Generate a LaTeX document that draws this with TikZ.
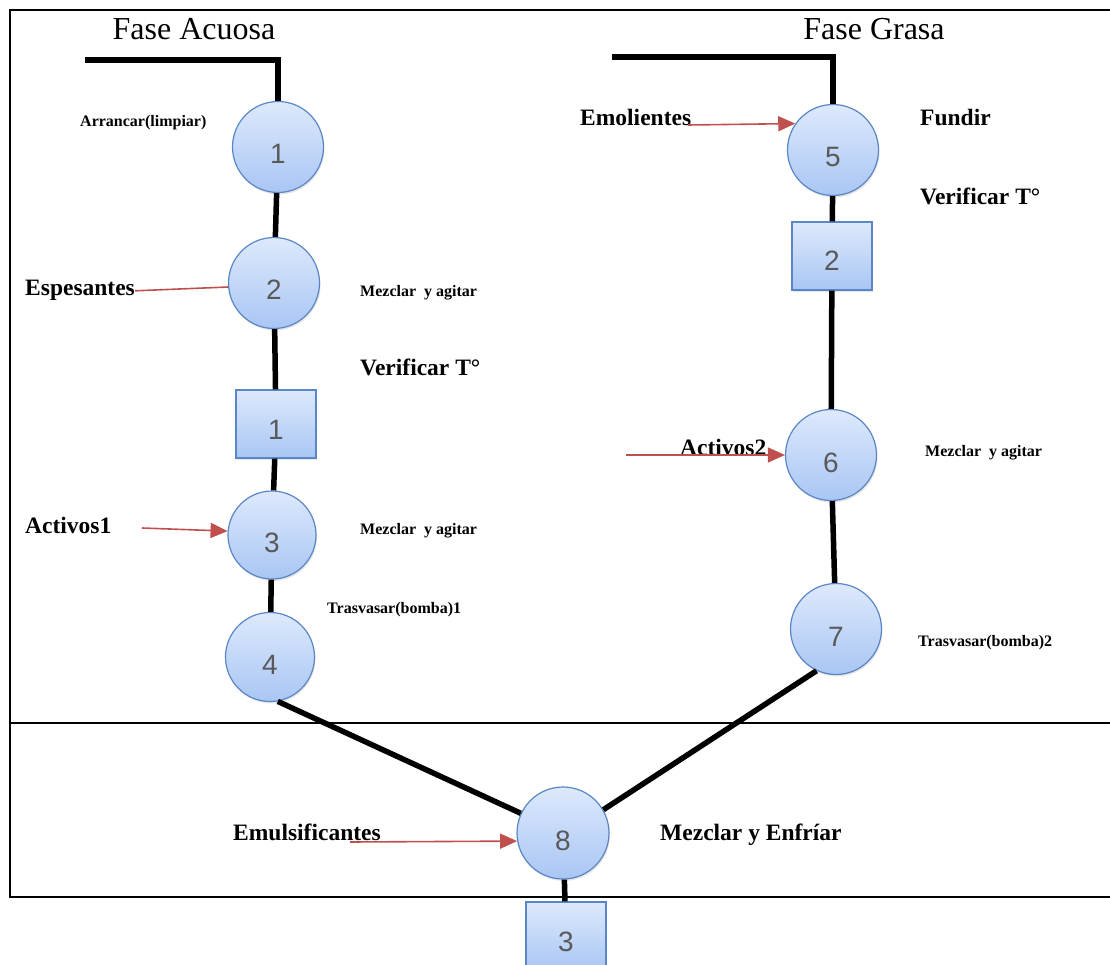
\documentclass[tikz,border=0pt]{standalone}
\usepackage{fontspec}
\setmainfont{Liberation Serif}
\newfontfamily\digitfont{Liberation Sans}
\usetikzlibrary{positioning,arrows.meta,shadows}
\definecolor{stepblue}{HTML}{5B86C5}
\definecolor{stepfilltop}{HTML}{DDE9FC}
\definecolor{stepfillbot}{HTML}{A9C6F4}
\definecolor{feedred}{HTML}{C0504D}

\begin{document}
\begin{tikzpicture}[
  x = 1pt,
  y = -1pt,
  paso/.style={circle, draw=stepblue, line width=1.2pt,
    top color=stepfilltop, bottom color=stepfillbot,
    minimum size=91pt, inner sep=0pt, text=black!65,
    font=\digitfont\fontsize{28}{28}\selectfont,
    text height=34pt, text depth=0pt,
    drop shadow={opacity=0.2, shadow xshift=1pt, shadow yshift=-2pt}},
  control/.style={paso, rectangle, minimum width=80pt, minimum height=68pt,
    text height=30pt},
  tubo/.style={line width=5.5pt},
  marco/.style={line width=2.5pt},
  entrada/.style={draw=feedred, line width=1.6pt,
    -{Triangle[length=17pt,width=15pt]}},
  fase/.style={font=\fontsize{32}{32}\selectfont, anchor=base, inner sep=0pt},
  accion/.style={font=\bfseries\fontsize{23.5}{26}\selectfont,
    anchor=base west, inner sep=0pt},
  nota/.style={font=\bfseries\fontsize{16}{18}\selectfont,
    anchor=base west, inner sep=0pt},
  ]
  \useasboundingbox (0,0) rectangle (1110,965);

  % frame
  \coordinate (frame-ne) at (1110,10);
  \coordinate (frame-nw) at (10,10);
  \coordinate (frame-sw) at (10,897);
  \coordinate (frame-se) at (1110,897);
  \coordinate (split-w) at (10,723);
  \coordinate (split-e) at (1110,723);
  \draw[marco] (frame-ne) -- (frame-nw) -- (frame-sw) -- (frame-se);
  \draw[marco] (split-w) -- (split-e);

  % fase acuosa
  \node[fase] (t-acuosa) at (194,40) {Fase Acuosa};
  \node[paso] (c1) at (278,147) {1};
  \node[paso] (c2) at (274,283) {2};
  \node[control] (sq1) at (276,424) {1};
  \node[paso, minimum size=88pt] (c3) at (272,535) {3};
  \node[paso, minimum size=89pt] (c4) at (270,657) {4};

  \node[nota] (arrancar) at (80,127) {Arrancar(limpiar)};
  \node[accion] (espesantes) at (25,296) {Espesantes};
  \node[nota] (mezclar1) at (360,297) {Mezclar\ \ y agitar};
  \node[accion] (verificar1) at (360,375) {Verificar T°};
  \node[accion] (activos1) at (25,533) {Activos1};
  \node[nota] (mezclar2) at (360,534) {Mezclar\ \ y agitar};
  \node[nota] (trasvasar1) at (327,613) {Trasvasar(bomba)1};

  % fase grasa
  \node[fase] (t-grasa) at (874,40) {Fase Grasa};
  \node[paso] (c5) at (833,150) {5};
  \node[control] (sq2) at (832,256) {2};
  \node[paso] (c6) at (831,455) {6};
  \node[paso] (c7) at (836,629) {7};

  \node[accion] (emolientes) at (580,126) {Emolientes};
  \node[accion] (fundir) at (920,126) {Fundir};
  \node[accion] (verificar2) at (920,205) {Verificar T°};
  \node[accion] (activos2) at (680,455) {Activos2};
  \node[nota] (mezclar3) at (925,456) {Mezclar\ \ y agitar};
  \node[nota] (trasvasar2) at (918,646) {Trasvasar(bomba)2};

  % emulsion
  \node[paso, minimum size=92pt] (c8) at (563,833) {8};
  \node[control] (sq3) at (566,936) {3};
  \node[accion] (emulsificantes) at (233,840) {Emulsificantes};
  \node[accion] (enfriar) at (660,840) {Mezclar y Enfríar};

  % pipes
  \coordinate (acuosa-in) at (85,60);
  \coordinate (grasa-in) at (612,57);
  \draw[tubo] (acuosa-in) -| (c1);
  \draw[tubo] (c1) -- (c2);
  \draw[tubo] (c2) -- (sq1);
  \draw[tubo] (sq1) -- (c3);
  \draw[tubo] (c3) -- (c4);
  \draw[tubo] (grasa-in) -| (c5);
  \draw[tubo] (c5) -- (sq2);
  \draw[tubo] (sq2) -- (c6);
  \draw[tubo] (c6) -- (c7);
  \draw[tubo] (c4.-80) -- (c8.155);
  \draw[tubo] (c7.245) -- (c8.30);
  \draw[tubo] (c8) -- (sq3);

  % feeds
  \coordinate (emolientes-in) at (688,125);
  \coordinate (activos1-in) at (142,528);
  \coordinate (activos2-in) at (626,455);
  \coordinate (emulsificantes-in) at (350,842);
  \draw[draw=feedred, line width=1.6pt] (espesantes.east) -- (c2.185);
  \draw[entrada] (emolientes-in) -- (c5.145);
  \draw[entrada] (activos1-in) -- (c3.175);
  \draw[entrada] (activos2-in) -- (c6.west);
  \draw[entrada] (emulsificantes-in) -- (c8.190);
\end{tikzpicture}
\end{document}
